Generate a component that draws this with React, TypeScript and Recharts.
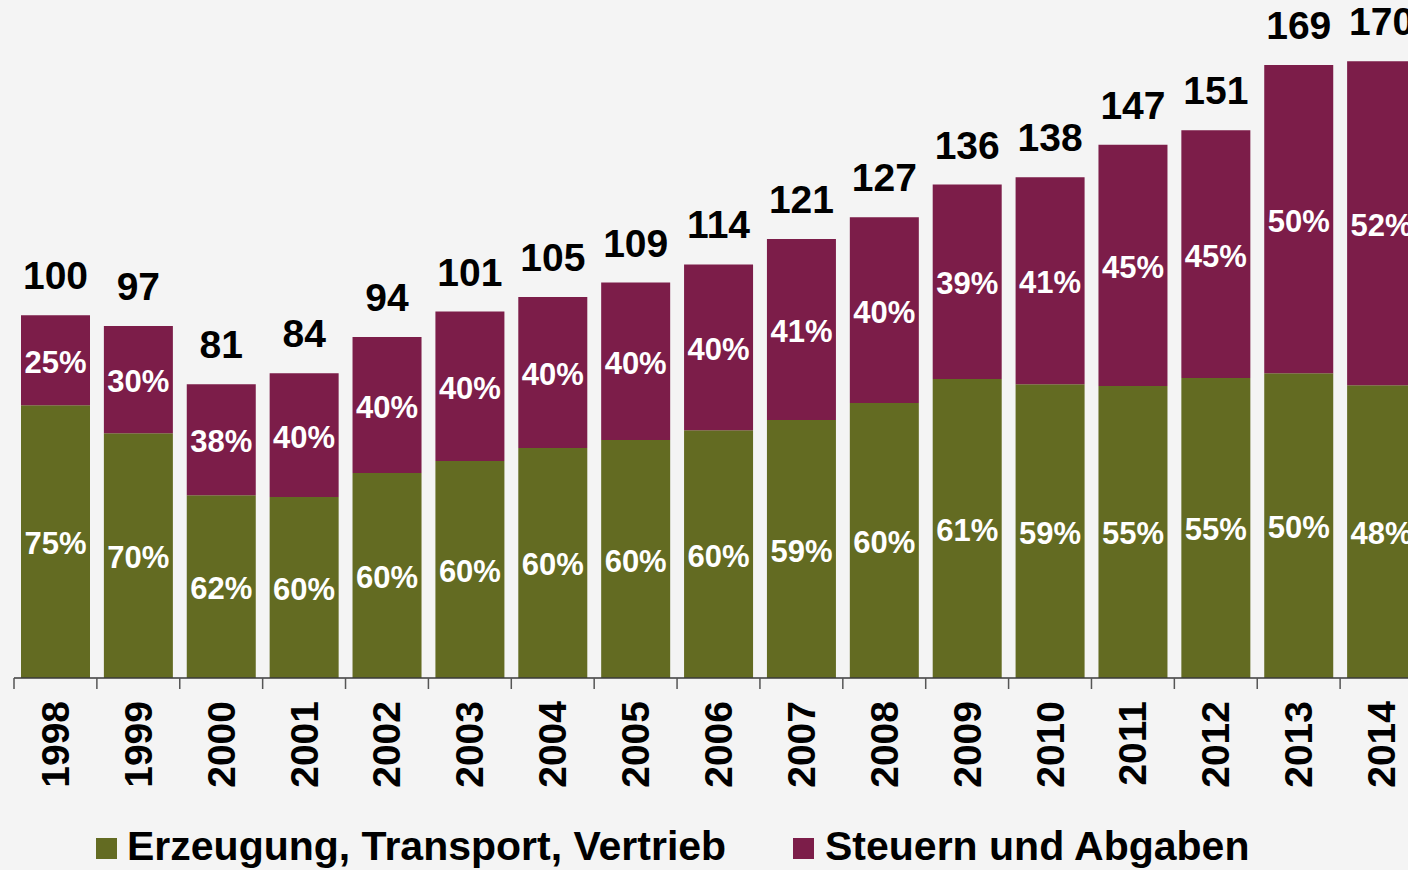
import React from "react";
import { BarChart, Bar, XAxis, YAxis, LabelList } from "recharts";

const years = ["1998", "1999", "2000", "2001", "2002", "2003", "2004", "2005", "2006", "2007", "2008", "2009", "2010", "2011", "2012", "2013", "2014"];
const totals = [100, 97, 81, 84, 94, 101, 105, 109, 114, 121, 127, 136, 138, 147, 151, 169, 170];
const generation = [75.2, 67.5, 50.4, 49.9, 56.5, 59.8, 63.4, 65.6, 68.3, 71.1, 75.8, 82.4, 81.0, 80.5, 82.7, 84.0, 80.7];
const taxes = [24.8, 29.5, 30.6, 34.1, 37.5, 41.2, 41.6, 43.4, 45.7, 49.9, 51.2, 53.6, 57.0, 66.5, 68.3, 85.0, 89.3];
const generationShare = ["75%", "70%", "62%", "60%", "60%", "60%", "60%", "60%", "60%", "59%", "60%", "61%", "59%", "55%", "55%", "50%", "48%"];
const taxShare = ["25%", "30%", "38%", "40%", "40%", "40%", "40%", "40%", "40%", "41%", "40%", "39%", "41%", "45%", "45%", "50%", "52%"];
const seriesNames = ["Erzeugung, Transport, Vertrieb", "Steuern und Abgaben"];

const GREEN = "#636b22";
const MAROON = "#7c1d49";
const FONT = "Arial, 'Liberation Sans', sans-serif";

const data = years.map((year, i) => ({
  year,
  total: totals[i],
  generation: generation[i],
  taxes: taxes[i],
  genPct: generationShare[i],
  taxPct: taxShare[i],
}));

const CHART_W = 1438;
const MARGIN_L = 14;
const MARGIN_R = 15;
const band = (CHART_W - MARGIN_L - MARGIN_R) / years.length;

function YearTick(props: any) {
  const { x, y, payload } = props;
  return (
    <g>
      <line x1={x - band / 2} x2={x - band / 2} y1={y} y2={y + 11} stroke="#555" strokeWidth={1.5} />
      <text
        x={x}
        y={y + 23}
        transform={`rotate(-90, ${x}, ${y + 23})`}
        textAnchor="end"
        dominantBaseline="central"
        fontFamily={FONT}
        fontWeight="bold"
        fontSize={39}
        fill="#000"
      >
        {payload.value}
      </text>
    </g>
  );
}

function pctLabel(props: any) {
  const { x, y, width, height, value } = props;
  return (
    <text
      x={x + width / 2}
      y={y + height / 2 + 2}
      textAnchor="middle"
      dominantBaseline="central"
      fontFamily={FONT}
      fontWeight="bold"
      fontSize={31}
      fill="#fff"
    >
      {value}
    </text>
  );
}

function totalLabel(props: any) {
  const { x, y, width, value } = props;
  return (
    <text
      x={x + width / 2}
      y={y - 26}
      textAnchor="middle"
      fontFamily={FONT}
      fontWeight="bold"
      fontSize={39}
      fill="#000"
    >
      {value}
    </text>
  );
}

export default function App() {
  const legendItems = [
    { name: seriesNames[0], color: GREEN, sq: 96, tx: 127 },
    { name: seriesNames[1], color: MAROON, sq: 793, tx: 825 },
  ];
  return (
    <div
      style={{
        position: "absolute",
        top: 0,
        left: 0,
        width: 1408,
        height: 870,
        overflow: "hidden",
        background: "#f4f4f4",
      }}
    >
      <BarChart
        width={CHART_W}
        height={870}
        data={data}
        margin={{ top: 25, right: MARGIN_R, left: MARGIN_L, bottom: 0 }}
      >
        <YAxis hide domain={[0, 180]} />
        <XAxis
          dataKey="year"
          height={192}
          interval={0}
          tickSize={0}
          tickMargin={0}
          tickLine={false}
          axisLine={{ stroke: "#3a3a3a", strokeWidth: 1.5 }}
          tick={<YearTick />}
        />
        <Bar dataKey="generation" stackId="a" fill={GREEN} barSize={69} isAnimationActive={false}>
          <LabelList dataKey="genPct" content={pctLabel} />
        </Bar>
        <Bar dataKey="taxes" stackId="a" fill={MAROON} barSize={69} isAnimationActive={false}>
          <LabelList dataKey="taxPct" content={pctLabel} />
          <LabelList dataKey="total" content={totalLabel} />
        </Bar>
      </BarChart>
      {legendItems.map((item) => (
        <React.Fragment key={item.name}>
          <div
            style={{
              position: "absolute",
              left: item.sq,
              top: 838,
              width: 21,
              height: 21,
              background: item.color,
            }}
          />
          <div
            style={{
              position: "absolute",
              left: item.tx,
              top: 826,
              fontFamily: FONT,
              fontWeight: "bold",
              fontSize: 41,
              lineHeight: "41px",
              whiteSpace: "nowrap",
              color: "#000",
            }}
          >
            {item.name}
          </div>
        </React.Fragment>
      ))}
    </div>
  );
}
